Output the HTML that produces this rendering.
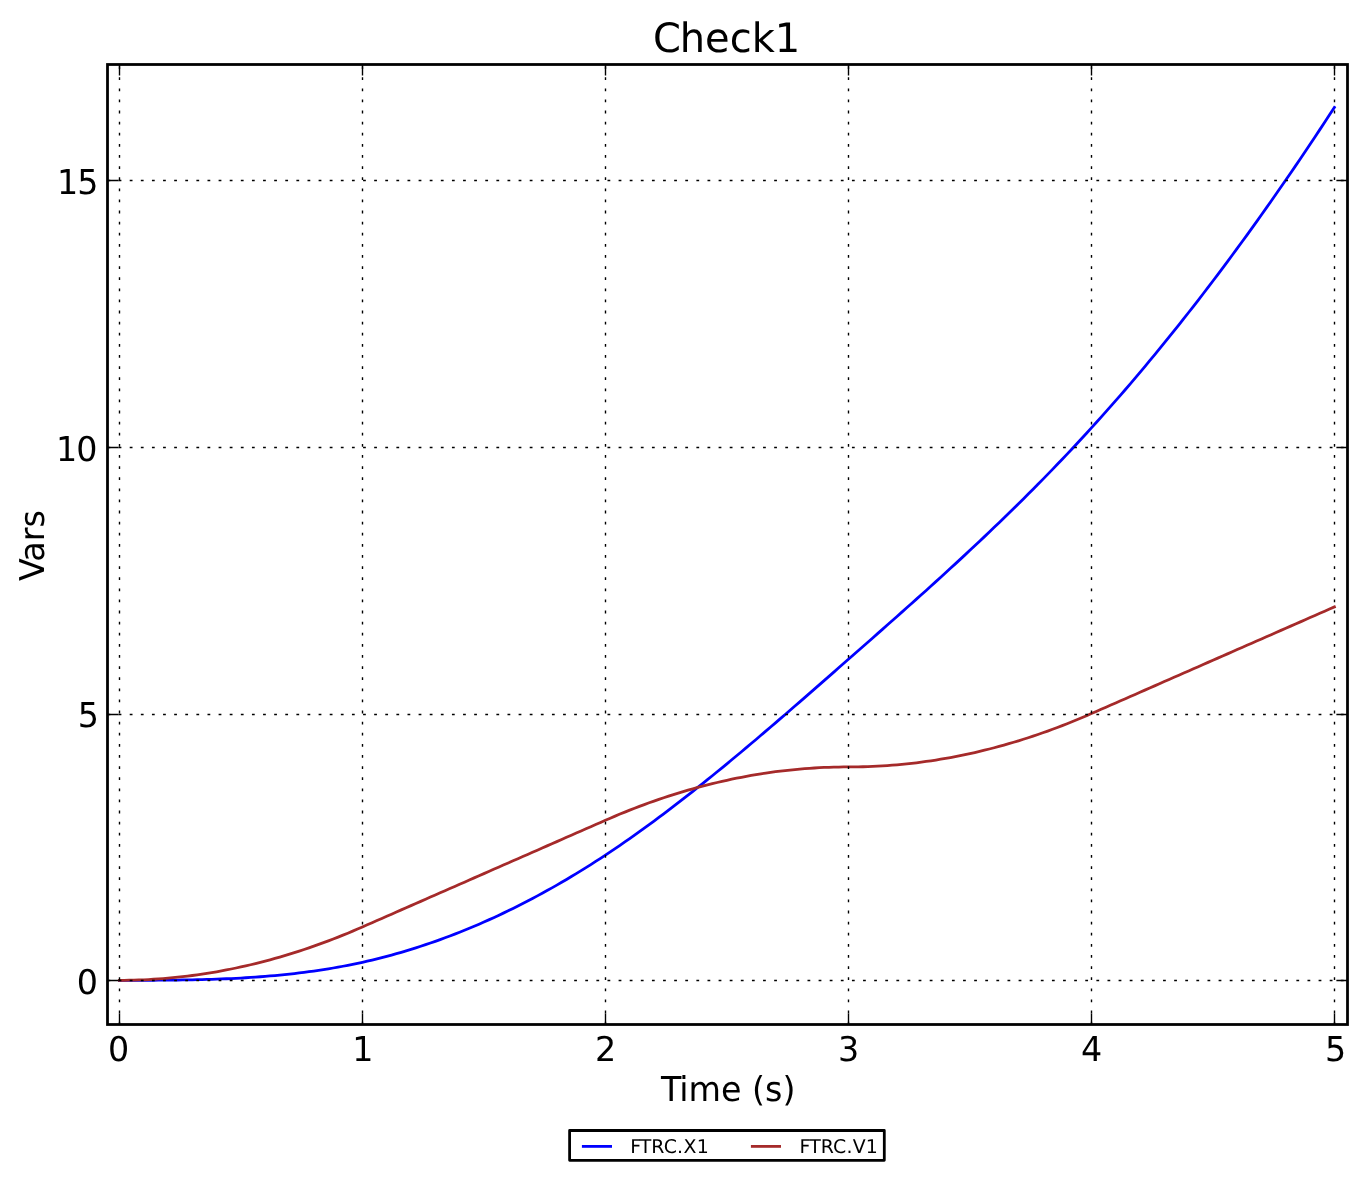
<!DOCTYPE html>
<html lang="en"><head><meta charset="utf-8"><title>Check1</title>
<style>html,body{margin:0;padding:0;background:#fff}svg{display:block}text{font-family:"DejaVu Sans","Liberation Sans",sans-serif;fill:#000;text-rendering:geometricPrecision}</style></head><body>
<svg width="1366" height="1180" viewBox="0 0 1366 1180">
<rect width="1366" height="1180" fill="#fff"/>
<clipPath id="c"><rect x="107.50" y="64.50" width="1240.00" height="960.00"/></clipPath>
<g fill="none" stroke-width="2.778" stroke-linejoin="round" stroke-linecap="square" clip-path="url(#c)">
<path stroke="#0000ff" d="M119.40,980.30 L124.26,980.30 L129.12,980.30 L133.98,980.30 L138.84,980.29 L143.70,980.28 L148.56,980.27 L153.42,980.25 L158.28,980.22 L163.14,980.19 L168.00,980.15 L172.86,980.10 L177.72,980.04 L182.58,979.97 L187.44,979.89 L192.30,979.80 L197.16,979.69 L202.02,979.57 L206.88,979.44 L211.74,979.29 L216.60,979.12 L221.46,978.94 L226.32,978.74 L231.18,978.52 L236.04,978.28 L240.90,978.02 L245.76,977.74 L250.62,977.43 L255.48,977.10 L260.34,976.75 L265.20,976.37 L270.06,975.97 L274.92,975.54 L279.78,975.08 L284.64,974.60 L289.50,974.08 L294.36,973.54 L299.22,972.96 L304.08,972.36 L308.94,971.72 L313.80,971.04 L318.66,970.34 L323.52,969.59 L328.38,968.81 L333.24,968.00 L338.10,967.14 L342.96,966.25 L347.82,965.32 L352.68,964.35 L357.54,963.34 L362.40,962.28 L367.26,961.18 L372.12,960.04 L376.98,958.86 L381.84,957.63 L386.70,956.36 L391.56,955.05 L396.42,953.70 L401.28,952.30 L406.14,950.86 L411.00,949.38 L415.86,947.86 L420.72,946.29 L425.58,944.68 L430.44,943.03 L435.30,941.33 L440.16,939.60 L445.02,937.82 L449.88,935.99 L454.74,934.13 L459.60,932.22 L464.46,930.27 L469.32,928.27 L474.18,926.24 L479.04,924.16 L483.90,922.03 L488.76,919.87 L493.62,917.66 L498.48,915.41 L503.34,913.12 L508.20,910.79 L513.06,908.41 L517.92,905.99 L522.78,903.52 L527.64,901.02 L532.50,898.47 L537.36,895.88 L542.22,893.24 L547.08,890.57 L551.94,887.85 L556.80,885.09 L561.66,882.28 L566.52,879.43 L571.38,876.54 L576.24,873.61 L581.10,870.64 L585.96,867.62 L590.82,864.56 L595.68,861.45 L600.54,858.31 L605.40,855.12 L610.26,851.89 L615.12,848.62 L619.98,845.30 L624.84,841.95 L629.70,838.56 L634.56,835.13 L639.42,831.66 L644.28,828.15 L649.14,824.61 L654.00,821.04 L658.86,817.43 L663.72,813.79 L668.58,810.11 L673.44,806.41 L678.30,802.67 L683.16,798.91 L688.02,795.11 L692.88,791.29 L697.74,787.44 L702.60,783.56 L707.46,779.66 L712.32,775.73 L717.18,771.78 L722.04,767.81 L726.90,763.82 L731.76,759.80 L736.62,755.77 L741.48,751.71 L746.34,747.64 L751.20,743.54 L756.06,739.44 L760.92,735.31 L765.78,731.17 L770.64,727.02 L775.50,722.85 L780.36,718.67 L785.22,714.48 L790.08,710.27 L794.94,706.06 L799.80,701.84 L804.66,697.61 L809.52,693.37 L814.38,689.13 L819.24,684.88 L824.10,680.62 L828.96,676.36 L833.82,672.10 L838.68,667.83 L843.54,663.57 L848.40,659.30 L853.26,655.03 L858.12,650.76 L862.98,646.49 L867.84,642.22 L872.70,637.94 L877.56,633.66 L882.42,629.38 L887.28,625.08 L892.14,620.78 L897.00,616.48 L901.86,612.16 L906.72,607.83 L911.58,603.50 L916.44,599.15 L921.30,594.79 L926.16,590.42 L931.02,586.03 L935.88,581.63 L940.74,577.21 L945.60,572.78 L950.46,568.33 L955.32,563.86 L960.18,559.37 L965.04,554.87 L969.90,550.34 L974.76,545.79 L979.62,541.22 L984.48,536.62 L989.34,532.00 L994.20,527.36 L999.06,522.69 L1003.92,517.99 L1008.78,513.27 L1013.64,508.51 L1018.50,503.73 L1023.36,498.92 L1028.22,494.08 L1033.08,489.20 L1037.94,484.30 L1042.80,479.35 L1047.66,474.38 L1052.52,469.37 L1057.38,464.32 L1062.24,459.24 L1067.10,454.12 L1071.96,448.96 L1076.82,443.76 L1081.68,438.52 L1086.54,433.24 L1091.40,427.92 L1096.26,422.55 L1101.12,417.15 L1105.98,411.70 L1110.84,406.20 L1115.70,400.67 L1120.56,395.09 L1125.42,389.47 L1130.28,383.81 L1135.14,378.10 L1140.00,372.35 L1144.86,366.56 L1149.72,360.72 L1154.58,354.85 L1159.44,348.93 L1164.30,342.97 L1169.16,336.96 L1174.02,330.91 L1178.88,324.82 L1183.74,318.69 L1188.60,312.51 L1193.46,306.30 L1198.32,300.03 L1203.18,293.73 L1208.04,287.38 L1212.90,280.99 L1217.76,274.56 L1222.62,268.09 L1227.48,261.57 L1232.34,255.01 L1237.20,248.41 L1242.06,241.76 L1246.92,235.08 L1251.78,228.35 L1256.64,221.57 L1261.50,214.76 L1266.36,207.90 L1271.22,201.00 L1276.08,194.05 L1280.94,187.07 L1285.80,180.04 L1290.66,172.97 L1295.52,165.85 L1300.38,158.69 L1305.24,151.49 L1310.10,144.25 L1314.96,136.97 L1319.82,129.64 L1324.68,122.27 L1329.54,114.86 L1334.40,107.40"/>
<path stroke="#a52a2a" d="M119.40,980.30 L124.26,980.28 L129.12,980.21 L133.98,980.11 L138.84,979.96 L143.70,979.77 L148.56,979.53 L153.42,979.25 L158.28,978.93 L163.14,978.57 L168.00,978.17 L172.86,977.72 L177.72,977.23 L182.58,976.69 L187.44,976.12 L192.30,975.50 L197.16,974.84 L202.02,974.13 L206.88,973.39 L211.74,972.60 L216.60,971.77 L221.46,970.89 L226.32,969.97 L231.18,969.01 L236.04,968.01 L240.90,966.96 L245.76,965.88 L250.62,964.75 L255.48,963.57 L260.34,962.36 L265.20,961.10 L270.06,959.80 L274.92,958.45 L279.78,957.07 L284.64,955.64 L289.50,954.16 L294.36,952.65 L299.22,951.09 L304.08,949.49 L308.94,947.85 L313.80,946.16 L318.66,944.43 L323.52,942.66 L328.38,940.85 L333.24,938.99 L338.10,937.09 L342.96,935.15 L347.82,933.17 L352.68,931.14 L357.54,929.07 L362.40,926.96 L367.26,924.83 L372.12,922.69 L376.98,920.56 L381.84,918.43 L386.70,916.29 L391.56,914.16 L396.42,912.02 L401.28,909.89 L406.14,907.76 L411.00,905.62 L415.86,903.49 L420.72,901.36 L425.58,899.22 L430.44,897.09 L435.30,894.96 L440.16,892.82 L445.02,890.69 L449.88,888.56 L454.74,886.42 L459.60,884.29 L464.46,882.15 L469.32,880.02 L474.18,877.89 L479.04,875.75 L483.90,873.62 L488.76,871.49 L493.62,869.35 L498.48,867.22 L503.34,865.09 L508.20,862.95 L513.06,860.82 L517.92,858.68 L522.78,856.55 L527.64,854.42 L532.50,852.28 L537.36,850.15 L542.22,848.02 L547.08,845.88 L551.94,843.75 L556.80,841.62 L561.66,839.48 L566.52,837.35 L571.38,835.22 L576.24,833.08 L581.10,830.95 L585.96,828.81 L590.82,826.68 L595.68,824.55 L600.54,822.41 L605.40,820.28 L610.26,818.17 L615.12,816.10 L619.98,814.07 L624.84,812.09 L629.70,810.15 L634.56,808.25 L639.42,806.39 L644.28,804.58 L649.14,802.81 L654.00,801.08 L658.86,799.39 L663.72,797.75 L668.58,796.15 L673.44,794.59 L678.30,793.08 L683.16,791.60 L688.02,790.17 L692.88,788.79 L697.74,787.44 L702.60,786.14 L707.46,784.88 L712.32,783.67 L717.18,782.49 L722.04,781.36 L726.90,780.27 L731.76,779.23 L736.62,778.23 L741.48,777.27 L746.34,776.35 L751.20,775.47 L756.06,774.64 L760.92,773.85 L765.78,773.11 L770.64,772.40 L775.50,771.74 L780.36,771.12 L785.22,770.55 L790.08,770.01 L794.94,769.52 L799.80,769.07 L804.66,768.67 L809.52,768.31 L814.38,767.99 L819.24,767.71 L824.10,767.47 L828.96,767.28 L833.82,767.13 L838.68,767.03 L843.54,766.96 L848.40,766.94 L853.26,766.92 L858.12,766.85 L862.98,766.75 L867.84,766.60 L872.70,766.41 L877.56,766.17 L882.42,765.89 L887.28,765.57 L892.14,765.21 L897.00,764.81 L901.86,764.36 L906.72,763.87 L911.58,763.33 L916.44,762.76 L921.30,762.14 L926.16,761.48 L931.02,760.77 L935.88,760.03 L940.74,759.24 L945.60,758.41 L950.46,757.53 L955.32,756.61 L960.18,755.65 L965.04,754.65 L969.90,753.60 L974.76,752.52 L979.62,751.39 L984.48,750.21 L989.34,749.00 L994.20,747.74 L999.06,746.44 L1003.92,745.09 L1008.78,743.71 L1013.64,742.28 L1018.50,740.80 L1023.36,739.29 L1028.22,737.73 L1033.08,736.13 L1037.94,734.49 L1042.80,732.80 L1047.66,731.07 L1052.52,729.30 L1057.38,727.49 L1062.24,725.63 L1067.10,723.73 L1071.96,721.79 L1076.82,719.81 L1081.68,717.78 L1086.54,715.71 L1091.40,713.60 L1096.26,711.47 L1101.12,709.33 L1105.98,707.20 L1110.84,705.07 L1115.70,702.93 L1120.56,700.80 L1125.42,698.66 L1130.28,696.53 L1135.14,694.40 L1140.00,692.26 L1144.86,690.13 L1149.72,688.00 L1154.58,685.86 L1159.44,683.73 L1164.30,681.60 L1169.16,679.46 L1174.02,677.33 L1178.88,675.20 L1183.74,673.06 L1188.60,670.93 L1193.46,668.79 L1198.32,666.66 L1203.18,664.53 L1208.04,662.39 L1212.90,660.26 L1217.76,658.13 L1222.62,655.99 L1227.48,653.86 L1232.34,651.73 L1237.20,649.59 L1242.06,647.46 L1246.92,645.32 L1251.78,643.19 L1256.64,641.06 L1261.50,638.92 L1266.36,636.79 L1271.22,634.66 L1276.08,632.52 L1280.94,630.39 L1285.80,628.26 L1290.66,626.12 L1295.52,623.99 L1300.38,621.86 L1305.24,619.72 L1310.10,617.59 L1314.96,615.45 L1319.82,613.32 L1324.68,611.19 L1329.54,609.05 L1334.40,606.92"/>
</g>
<g stroke="#000" stroke-width="1.389" stroke-dasharray="2.778 8.333" fill="none">
<path d="M119.50 1024.50 V64.50"/>
<path d="M362.50 1024.50 V64.50"/>
<path d="M605.50 1024.50 V64.50"/>
<path d="M848.50 1024.50 V64.50"/>
<path d="M1091.50 1024.50 V64.50"/>
<path d="M1334.50 1024.50 V64.50"/>
<path d="M107.50 980.50 H1347.50"/>
<path d="M107.50 714.50 H1347.50"/>
<path d="M107.50 447.50 H1347.50"/>
<path d="M107.50 180.50 H1347.50"/>
</g>
<g stroke="#000" stroke-width="1.389">
<path d="M119.50 1024.50 v-11.11 M119.50 64.50 v11.11"/>
<path d="M362.50 1024.50 v-11.11 M362.50 64.50 v11.11"/>
<path d="M605.50 1024.50 v-11.11 M605.50 64.50 v11.11"/>
<path d="M848.50 1024.50 v-11.11 M848.50 64.50 v11.11"/>
<path d="M1091.50 1024.50 v-11.11 M1091.50 64.50 v11.11"/>
<path d="M1334.50 1024.50 v-11.11 M1334.50 64.50 v11.11"/>
<path d="M107.50 980.50 h11.11 M1347.50 980.50 h-11.11"/>
<path d="M107.50 714.50 h11.11 M1347.50 714.50 h-11.11"/>
<path d="M107.50 447.50 h11.11 M1347.50 447.50 h-11.11"/>
<path d="M107.50 180.50 h11.11 M1347.50 180.50 h-11.11"/>
</g>
<rect x="107.50" y="64.50" width="1240.00" height="960.00" fill="none" stroke="#000" stroke-width="2.778"/>
<text transform="translate(118.50 1061.20) scale(1 1.025)" font-size="33.33" text-anchor="middle">0</text>
<text transform="translate(362.75 1061.20) scale(1 1.025)" font-size="33.33" text-anchor="middle">1</text>
<text transform="translate(605.70 1061.20) scale(1 1.025)" font-size="33.33" text-anchor="middle">2</text>
<text transform="translate(848.70 1061.20) scale(1 1.025)" font-size="33.33" text-anchor="middle">3</text>
<text transform="translate(1091.55 1061.20) scale(1 1.025)" font-size="33.33" text-anchor="middle">4</text>
<text transform="translate(1335.70 1061.20) scale(1 1.025)" font-size="33.33" text-anchor="middle">5</text>
<text transform="translate(98.00 994.10) scale(1 1.025)" font-size="33.33" text-anchor="end">0</text>
<text transform="translate(99.00 726.70) scale(1 1.025)" font-size="33.33" text-anchor="end">5</text>
<text transform="translate(96.60 460.80) scale(1 1.025)" font-size="33.33" text-anchor="end" dx="0.9 -0.9">10</text>
<text transform="translate(97.55 194.00) scale(1 1.025)" font-size="33.33" text-anchor="end" dx="0.9 -0.9">15</text>
<text transform="translate(727.05 1101.00) scale(1 1.025)" font-size="33.33" text-anchor="middle" dx="1.2 -1.2">Time (s)</text>
<text transform="translate(43.60 546.52) rotate(-90) scale(1 1.025)" font-size="33.33" text-anchor="middle" dx="0.9 -0.9">Vars</text>
<text transform="translate(725.40 51.70) scale(1 1.012)" font-size="40.00" text-anchor="middle" dx="1.2 -1.2">Check1</text>
<rect x="569.6" y="1130.5" width="314.70" height="29.80" fill="#fff" stroke="#000" stroke-linejoin="round" stroke-width="2.778"/>
<path d="M581.9 1146.4 H612" stroke="#0000ff" stroke-width="2.778"/>
<path d="M750.9 1146.4 H781" stroke="#a52a2a" stroke-width="2.778"/>
<text x="630.2" y="1153" dx="0 -1 0 0.3 0 0.5 0.2" font-size="18.90">FTRC.X1</text>
<text x="799.6" y="1153" dx="0 -1 0 0.2 0.1 0.35 0" font-size="18.90">FTRC.V1</text>
</svg></body></html>
